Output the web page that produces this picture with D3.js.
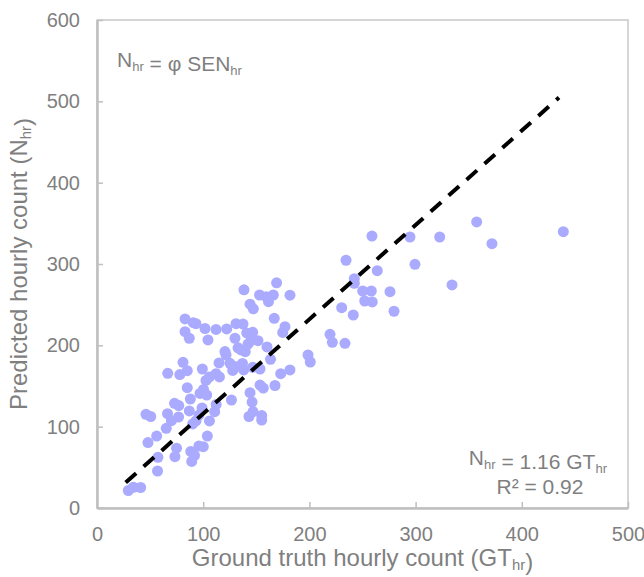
<!DOCTYPE html>
<html>
<head>
<meta charset="utf-8">
<script src="https://cdn.jsdelivr.net/npm/d3@7"></script>
<style>
  body { margin:0; background:#fff; }
  text { font-family: Arial, "Liberation Sans", sans-serif; fill:#7f7f7f; }
</style>
</head>
<body>
<svg id="viewer"></svg>
<script>
// ground truth hourly count (x) and predicted hourly count (y)
var gtHr = [29.5,34.2,41.1,57.0,57.4,48.0,56.2,46.1,50.6,66.4,65.2,70.0,73.0,77.0,76.8,74.9,73.4,
  66.6,78.0,85.0,81.0,85.0,87.9,86.9,90.1,93.2,88.3,91.8,89.2,95.9,100.1,103.9,97.0,100.3,103.3,
  96.0,98.9,99.2,102.6,105.9,112.1,115.3,105.9,110.8,112.2,114.9,104.5,101.7,112.1,82.9,90.7,93.2,
  82.9,86.9,122.1,130.9,137.5,120.5,121.5,125.2,127.8,130.9,137.0,138.1,126.6,132.8,135.6,139.6,
  142.2,129.9,141.0,146.6,145.0,151.6,144.1,146.0,143.1,146.9,155.1,155.1,153.5,156.6,167.6,153.5,
  146.6,160.1,163.4,173.0,181.7,166.9,177.0,174.9,138.4,144.1,147.2,153.1,159.4,161.5,166.0,169.1,
  181.7,198.7,200.8,219.4,221.6,233.5,230.4,241.3,234.5,242.3,242.3,250.2,258.3,275.9,252.1,259.2,
  279.7,263.9,258.9,294.7,299.4,322.7,334.3,357.5,371.9,439.1];
var nHr = [21.5,25.5,25.2,45.5,62.3,80.5,88.5,115.2,112.5,115.9,98.0,107.3,128.7,125.9,111.9,73.5,63.1,
  165.6,164.0,168.8,179.1,147.9,134.0,119.3,103.3,107.0,69.6,64.6,57.2,76.2,75.4,88.5,140.8,145.7,138.9,
  114.3,123.0,170.9,156.8,161.1,165.1,161.1,107.0,118.4,127.3,178.3,206.6,220.7,219.5,232.4,227.8,226.6,
  216.8,208.7,220.1,226.6,226.2,192.4,188.1,177.9,169.1,173.7,177.7,169.7,132.8,197.0,194.3,192.2,
  201.6,208.7,215.2,216.0,205.7,205.7,141.8,130.3,112.5,118.4,113.7,108.2,151.2,147.5,150.6,170.9,
  173.0,198.0,182.8,165.1,169.7,233.2,222.9,215.8,268.3,250.6,244.9,261.9,259.8,253.7,261.9,276.9,
  261.7,188.1,179.5,213.6,203.7,202.5,246.3,237.3,304.6,281.9,276.3,266.8,266.8,266.0,254.5,253.3,
  241.9,291.8,334.4,333.2,299.6,333.2,274.2,351.7,325.0,339.7];
var xTicks = [0,100,200,300,400,500];
var yTicks = [0,100,200,300,400,500,600];
var trendX = [27,435];
var slope = 1.16;

var W = 644, H = 577;
var plotL = 97, plotR = 628, plotT = 20, plotB = 508;

var viewer = d3.select('#viewer')
  .attr('width',W)
  .attr('height',H);

var x = d3.scaleLinear().domain([0,500]).range([plotL,plotR]);
var y = d3.scaleLinear().domain([0,600]).range([plotB,plotT]);

// frame
viewer.append('rect')
  .attr('x',plotL).attr('y',plotT)
  .attr('width',plotR-plotL).attr('height',plotB-plotT)
  .style('fill','none').style('stroke','#c8c8c8').style('stroke-width',1.5);

var xAxis = viewer.append('g')
  .attr('transform','translate(0,'+plotB+')')
  .call(d3.axisBottom(x).tickValues(xTicks).tickSizeInner(-6).tickSizeOuter(0).tickPadding(19));
var yAxis = viewer.append('g')
  .attr('transform','translate('+plotL+',0)')
  .call(d3.axisLeft(y).tickValues(yTicks).tickSizeInner(-6).tickSizeOuter(0).tickPadding(17));

[xAxis,yAxis].forEach(function(ax){
  ax.select('.domain').style('stroke','#bfbfbf').style('stroke-width',2.5);
  ax.selectAll('.tick line').style('stroke','#bfbfbf').style('stroke-width',1.5);
  ax.selectAll('.tick text')
    .style('font-family','Arial, "Liberation Sans", sans-serif')
    .style('font-size','20px')
    .style('fill','#7f7f7f');
});
xAxis.selectAll('.tick text').attr('dy','0.71em');

// points
var pts = gtHr.map(function(d,i){ return {gt:d, n:nHr[i]}; });
viewer.selectAll('.pt')
  .data(pts)
  .enter().append('circle')
    .attr('class','pt')
    .attr('cx',function(d){return x(d.gt);})
    .attr('cy',function(d){return y(d.n);})
    .attr('r',5.5)
    .style('fill','#aaaaff');

// trend line
viewer.append('line')
  .attr('x1',x(trendX[0])).attr('y1',y(trendX[0]*slope))
  .attr('x2',x(trendX[1])).attr('y2',y(trendX[1]*slope))
  .style('stroke','#000').style('stroke-width',4)
  .style('stroke-dasharray','14,10');

function subText(parent, parts, size){
  parts.forEach(function(p){
    if (p[1]) {
      parent.append('tspan').attr('dy','0.3em').style('font-size',(size*0.62)+'px').text(p[0]);
      parent.append('tspan').attr('dy','-0.3em').style('font-size',size+'px').text('');
    } else {
      parent.append('tspan').style('font-size',size+'px').text(p[0]);
    }
  });
}

// axis titles
var xt = viewer.append('text')
  .attr('x',(plotL+plotR)/2).attr('y',566)
  .attr('text-anchor','middle');
subText(xt, [['Ground truth hourly count (GT'],['hr',1],[')']], 24);

var yt = viewer.append('text')
  .attr('transform','translate(27,'+((plotT+plotB)/2)+') rotate(-90)')
  .attr('text-anchor','middle');
subText(yt, [['Predicted hourly count (N'],['hr',1],[')']], 24);

// annotations
var a1 = viewer.append('text').attr('x',117).attr('y',67);
subText(a1, [['N'],['hr',1],[' = φ SEN'],['hr',1]], 21);

var a2 = viewer.append('text').attr('x',607).attr('y',465).attr('text-anchor','end');
subText(a2, [['N'],['hr',1],[' = 1.16 GT'],['hr',1]], 21);

viewer.append('text').attr('x',540).attr('y',494).attr('text-anchor','middle')
  .style('font-size','21px').text('R² = 0.92');
</script>
</body>
</html>
